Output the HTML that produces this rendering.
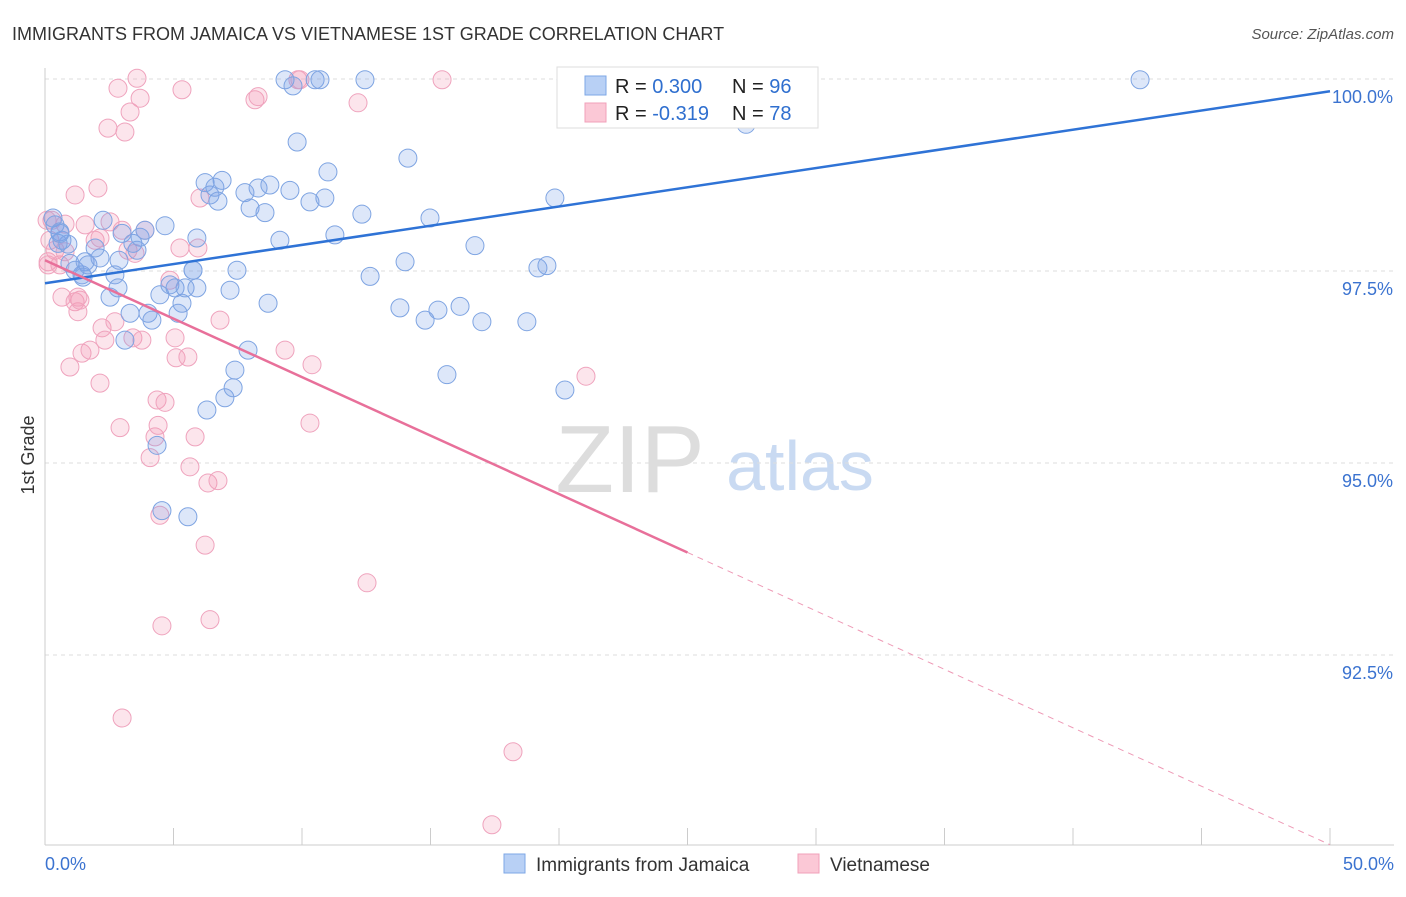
<!DOCTYPE html>
<html><head><meta charset="utf-8"><style>
body{margin:0;background:#fff;font-family:"Liberation Sans",sans-serif}
svg text{font-family:"Liberation Sans",sans-serif}
</style></head><body>
<svg id="c" width="1406" height="892" xmlns="http://www.w3.org/2000/svg">
<text x="12" y="40" font-size="18" fill="#333">IMMIGRANTS FROM JAMAICA VS VIETNAMESE 1ST GRADE CORRELATION CHART</text>
<text x="1394" y="39" font-size="15" fill="#555" font-style="italic" text-anchor="end">Source: ZipAtlas.com</text>
<text x="34" y="455" font-size="18" fill="#333" transform="rotate(-90 34 455)" text-anchor="middle">1st Grade</text>
<text x="630" y="492" font-size="96" fill="#ddd" text-anchor="middle" font-family="Liberation Serif">ZIP</text>
<text x="800" y="490" font-size="70" fill="#c9daf2" text-anchor="middle">atlas</text>
<g id="grid"></g><g id="pts"></g><g id="lines"></g>
<g>
<rect x="557" y="67" width="261" height="61" fill="#fff" stroke="#ddd"/>
<rect x="585" y="76" width="21" height="19" fill="#b8d0f5" stroke="#7ea7e6"/>
<rect x="585" y="103" width="21" height="19" fill="#fbc8d6" stroke="#f0a0ba"/>
<text x="615" y="93" font-size="20" fill="#222">R = <tspan fill="#2f6fcf">0.300</tspan></text>
<text x="732" y="93" font-size="20" fill="#222">N = <tspan fill="#2f6fcf">96</tspan></text>
<text x="615" y="120" font-size="20" fill="#222">R = <tspan fill="#2f6fcf">-0.319</tspan></text>
<text x="732" y="120" font-size="20" fill="#222">N = <tspan fill="#2f6fcf">78</tspan></text>
</g>
<g>
<rect x="504" y="854" width="21" height="19" fill="#b8d0f5" stroke="#7ea7e6"/>
<text x="536" y="871" font-size="19" fill="#333">Immigrants from Jamaica</text>
<rect x="798" y="854" width="21" height="19" fill="#fbc8d6" stroke="#f0a0ba"/>
<text x="830" y="871" font-size="19" fill="#333">Vietnamese</text>
</g>
</svg>
<script>
const yTicks=[100,97.5,95,92.5];
const yTickLabels=["100.0%","97.5%","95.0%","92.5%"];
const xTickLabels=["0.0%","50.0%"];
const blueX=[0.31,0.39,0.58,0.66,0.89,0.51,0.97,1.17,1.44,1.56,1.67,2.14,1.95,2.26,2.53,2.72,2.84,3.00,3.11,3.31,3.42,3.58,3.70,3.89,4.01,4.16,4.36,4.47,4.55,4.67,4.86,5.06,5.18,5.33,5.45,5.56,5.76,5.91,5.91,6.23,6.30,6.42,6.61,6.73,6.89,7.00,7.20,7.32,7.39,7.47,7.78,7.90,7.98,8.29,8.56,8.68,8.75,9.14,9.34,9.53,9.65,9.81,10.31,10.51,10.70,10.89,11.01,11.28,12.33,12.45,12.65,13.81,14.01,14.12,14.79,14.98,15.29,15.64,16.15,16.73,17.00,18.75,19.18,19.53,19.84,20.23,20.27,25.68,27.28,42.61,5.76,2.88,1.48,0.58];
const blueY=[98.19,98.10,98.01,97.90,97.85,97.86,97.60,97.51,97.45,97.62,97.58,97.67,97.80,98.16,97.16,97.45,97.28,97.99,96.60,96.95,97.86,97.77,97.94,98.03,96.95,96.86,95.23,97.19,94.38,98.09,97.32,97.28,96.95,97.08,97.28,94.30,97.51,97.28,97.93,98.65,95.69,98.49,98.59,98.41,98.68,95.85,97.25,95.98,96.21,97.51,98.52,96.47,98.32,98.58,98.26,97.08,98.62,97.90,99.99,98.55,99.91,99.18,98.40,99.99,99.99,98.45,98.79,97.97,98.24,99.99,97.43,97.02,97.62,98.97,96.86,98.19,96.99,96.15,97.04,97.83,96.84,96.84,97.54,97.57,98.45,95.95,99.99,99.99,99.41,99.99,97.51,97.64,97.42,97.99];
const pinkX=[0.27,0.19,0.12,0.39,0.58,0.78,0.66,0.97,1.17,1.28,1.36,1.44,1.56,1.75,1.95,2.06,2.14,2.22,2.33,2.45,2.53,2.72,2.84,2.92,3.00,3.11,3.23,3.31,3.42,3.50,3.58,3.70,3.89,4.09,4.28,4.36,4.40,4.47,4.55,4.67,4.86,5.06,5.10,5.25,5.33,5.56,5.64,5.84,5.95,6.03,6.23,6.34,6.42,6.73,6.81,8.17,8.29,9.34,9.84,9.92,10.31,10.39,12.18,12.53,15.45,17.39,18.21,21.05,1.17,0.78,0.08,0.12,1.28,2.14,3.77,3.00];
const pinkY=[98.16,97.90,97.62,97.77,97.58,97.75,97.16,96.25,97.10,96.97,97.12,96.43,98.10,96.47,97.90,98.58,96.04,96.76,96.60,99.36,98.14,96.84,99.88,95.46,91.68,99.31,97.77,99.57,96.63,97.73,100.01,99.75,98.03,95.07,95.34,95.82,95.49,94.32,92.88,95.79,97.38,96.63,96.37,97.80,99.86,96.38,94.95,95.34,97.80,98.45,93.93,94.74,92.96,94.77,96.86,99.73,99.77,96.47,99.99,99.99,95.52,96.28,99.69,93.44,99.99,90.29,91.24,96.13,98.49,98.11,98.16,97.58,97.16,97.93,96.60,98.03];
const blueTrend=[97.34,99.84];
const pinkTrend=[97.64,90.03];
const X0=45,X1=1330,Y100=79,PXPER=76.8;
const sx=v=>X0+(X1-X0)*v/50;
const sy=v=>Y100+(100-v)*PXPER;
const NS="http://www.w3.org/2000/svg";
function mk(t,a,p){const e=document.createElementNS(NS,t);for(const k in a)e.setAttribute(k,a[k]);p.appendChild(e);return e;}
const grid=document.getElementById('grid');
yTicks.forEach((t,i)=>{
 const l=mk('line',{x1:X0,x2:1394,y1:sy(t),y2:sy(t),stroke:'#ddd','stroke-dasharray':'4 4'},grid);
 
 
 const tx=mk('text',{x:1393,y:sy(t)+24,'font-size':18,fill:'#3b73d0','text-anchor':'end'},grid);
 tx.textContent=yTickLabels[i];
 
 
});
const ax=mk('line',{x1:X0,x2:X0,y1:68,y2:845,stroke:'#ccc'},grid);


const bx=mk('line',{x1:X0,x2:1394,y1:845,y2:845,stroke:'#ccc'},grid);


for(let i=0;i<=10;i++){const t=mk('line',{x1:sx(i*5),x2:sx(i*5),y1:828,y2:845,stroke:'#ccc'},grid);
 
 }
[[0,'start',45],[50,'end',1394]].forEach((d,i)=>{const t=mk('text',{x:d[2],y:870,'font-size':18,fill:'#3b73d0','text-anchor':d[1]},grid);t.textContent=xTickLabels[i];
 
 });
const pts=document.getElementById('pts');
pinkX.forEach((x,i)=>{const c=mk('circle',{cx:sx(x),cy:sy(pinkY[i]),r:9,fill:'rgba(244,150,180,0.25)',stroke:'#efa3bd','stroke-width':1},pts);
 
 });
blueX.forEach((x,i)=>{const c=mk('circle',{cx:sx(x),cy:sy(blueY[i]),r:9,fill:'rgba(120,160,230,0.25)',stroke:'#7ea4e2','stroke-width':1},pts);
 
 });
const lines=document.getElementById('lines');
const bl=mk('line',{x1:sx(0),y1:sy(blueTrend[0]),x2:sx(50),y2:sy(blueTrend[1]),stroke:'#2f73d6','stroke-width':2.5},lines);


const pm=v=>pinkTrend[0]+(pinkTrend[1]-pinkTrend[0])*v/50;
const pl=mk('line',{x1:sx(0),y1:sy(pinkTrend[0]),x2:sx(25),y2:sy(pm(25)),stroke:'#e8709a','stroke-width':2.5},lines);


const pd=mk('line',{x1:sx(25),y1:sy(pm(25)),x2:sx(50),y2:sy(pinkTrend[1]),stroke:'#ee9ab6','stroke-width':1,'stroke-dasharray':'6 5'},lines);


</script>
</body></html>
